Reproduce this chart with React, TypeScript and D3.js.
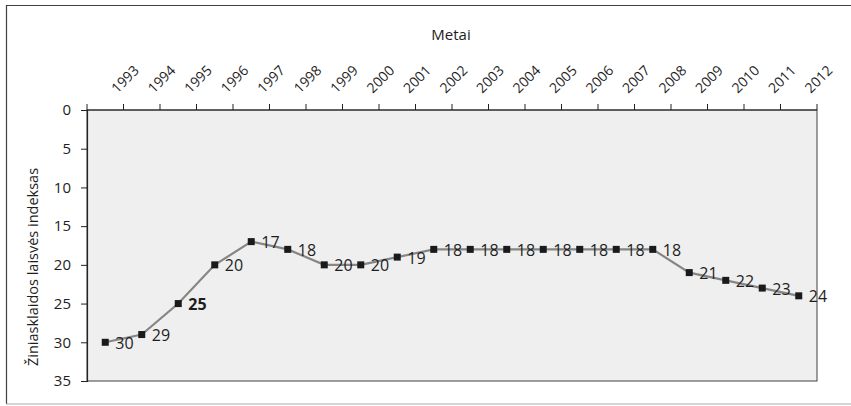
import React, { useEffect, useRef } from 'react';
import * as d3 from 'd3';

// Chart data
const years = ['1993', '1994', '1995', '1996', '1997', '1998', '1999', '2000', '2001', '2002',
  '2003', '2004', '2005', '2006', '2007', '2008', '2009', '2010', '2011', '2012'];
const indexValues = [30, 29, 25, 20, 17, 18, 20, 20, 19, 18, 18, 18, 18, 18, 18, 18, 21, 22, 23, 24];
const boldLabels = ['1995'];
const yTicks = [0, 5, 10, 15, 20, 25, 30, 35];
const xTitle = 'Metai';
const yTitle = 'Žiniasklaidos laisvės indeksas';

const W = 851;
const H = 406;
const FONT = '"Open Sans", "Noto Sans", sans-serif';

const App: React.FC = () => {
  const svgRef = useRef<SVGSVGElement>(null);

  useEffect(() => {
    if (!svgRef.current) return;
    const svg = d3.select(svgRef.current);
    svg.selectAll('*').remove();

    const plot = { left: 87, right: 817, top: 110, bottom: 381 };

    // Outer chart border
    svg.append('line').attr('x1', 6).attr('x2', W).attr('y1', 5.5).attr('y2', 5.5)
      .attr('stroke', '#404040').attr('stroke-width', 1.2);
    svg.append('line').attr('x1', 6.5).attr('x2', 6.5).attr('y1', 5).attr('y2', 404)
      .attr('stroke', '#404040').attr('stroke-width', 1.2);
    svg.append('line').attr('x1', 6).attr('x2', W).attr('y1', 404).attr('y2', 404)
      .attr('stroke', '#aaaaaa').attr('stroke-width', 1.2);

    const x = d3.scaleBand<string>()
      .domain(years)
      .range([plot.left, plot.right]);

    const y = d3.scaleLinear()
      .domain([0, 35])
      .range([plot.top, plot.bottom]);

    // Plot area
    svg.append('rect')
      .attr('x', plot.left)
      .attr('y', plot.top)
      .attr('width', plot.right - plot.left)
      .attr('height', plot.bottom - plot.top)
      .attr('fill', '#efefef')
      .attr('stroke', '#404040')
      .attr('stroke-width', 1);

    // Y axis (left, reversed)
    const yAxis = svg.append('g').attr('transform', `translate(${plot.left},0)`)
      .call(d3.axisLeft(y).tickValues(yTicks).tickSize(6).tickPadding(10));
    yAxis.select('.domain').attr('stroke', '#222').attr('stroke-width', 1.2);
    yAxis.selectAll('.tick line').attr('stroke', '#222');
    yAxis.selectAll('.tick text')
      .attr('font-family', FONT)
      .attr('font-size', 15)
      .attr('fill', '#1e1e1e');

    // X axis on top, ticks between categories
    svg.append('line')
      .attr('x1', plot.left).attr('x2', plot.right)
      .attr('y1', plot.top).attr('y2', plot.top)
      .attr('stroke', '#222').attr('stroke-width', 1.2);
    const boundaries = years.map(d => x(d) as number).concat([plot.right]);
    svg.append('g').selectAll('line')
      .data(boundaries)
      .enter()
      .append('line')
      .attr('x1', d => d).attr('x2', d => d)
      .attr('y1', plot.top).attr('y2', plot.top - 6)
      .attr('stroke', '#222');

    svg.append('g').selectAll('text')
      .data(years)
      .enter()
      .append('text')
      .attr('transform', d => `translate(${(x(d) as number) + x.bandwidth() / 2 + 12} 94) rotate(-45)`)
      .attr('font-family', FONT)
      .attr('font-size', 14)
      .attr('fill', '#1e1e1e')
      .text(d => d);

    // Axis titles
    svg.append('text')
      .attr('x', 451)
      .attr('y', 40)
      .attr('text-anchor', 'middle')
      .attr('font-family', FONT)
      .attr('font-size', 15)
      .attr('fill', '#1e1e1e')
      .text(xTitle);

    svg.append('text')
      .attr('transform', 'translate(38,267) rotate(-90)')
      .attr('text-anchor', 'middle')
      .attr('font-family', FONT)
      .attr('font-size', 14.5)
      .attr('fill', '#1e1e1e')
      .text(yTitle);

    const points = years.map((yr, i) => ({ year: yr, value: indexValues[i] }));
    const cx = (d: { year: string }) => (x(d.year) as number) + x.bandwidth() / 2;

    // Line
    const line = d3.line<{ year: string; value: number }>()
      .x(d => cx(d))
      .y(d => y(d.value));

    svg.append('path')
      .datum(points)
      .attr('d', line)
      .attr('fill', 'none')
      .attr('stroke', '#868686')
      .attr('stroke-width', 2.2);

    // Markers
    svg.append('g').selectAll('rect')
      .data(points)
      .enter()
      .append('rect')
      .attr('x', d => cx(d) - 3.5)
      .attr('y', d => y(d.value) - 3.5)
      .attr('width', 7)
      .attr('height', 7)
      .attr('fill', '#1a1a1a');

    // Data labels
    svg.append('g').selectAll('text')
      .data(points)
      .enter()
      .append('text')
      .attr('x', d => cx(d) + 10)
      .attr('y', d => y(d.value) + 6.5)
      .attr('font-family', FONT)
      .attr('font-size', 16)
      .attr('font-weight', d => boldLabels.includes(d.year) ? 'bold' : 'normal')
      .attr('fill', '#1e1e1e')
      .text(d => d.value);
  }, []);

  return (
    <svg
      ref={svgRef}
      width={W}
      height={H}
      style={{ position: 'absolute', left: 0, top: 0, background: '#fff' }}
    />
  );
};

export default App;
